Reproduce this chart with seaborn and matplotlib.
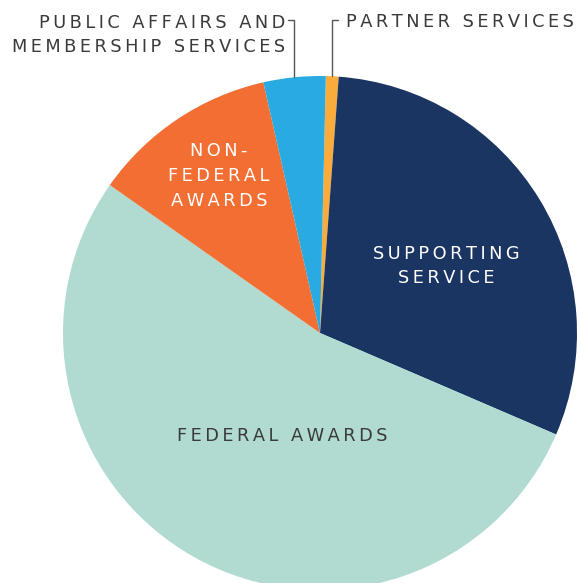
import numpy as np
import matplotlib
matplotlib.use("Agg")
import matplotlib.pyplot as plt
import seaborn as sns

# budget shares (%), clockwise from the top
categories = ["PARTNER SERVICES", "SUPPORTING SERVICE", "FEDERAL AWARDS",
              "NON-FEDERAL AWARDS", "PUBLIC AFFAIRS AND MEMBERSHIP SERVICES"]
shares = [0.8, 30.3, 53.3, 11.7, 3.9]
colors = ["#F9AB3C", "#1B3563", "#B1DBD1", "#F26E33", "#29AAE1"]

sns.set_theme(style="white")
plt.rcParams["font.family"] = ["DejaVu Sans"]

W, H = 577, 583
cx, cy, R = 320, 333, 257  # pie centre / radius in pixels


def px(x, y):
    # pixel position -> data units (pie radius = 1)
    return (x - cx) / R, (cy - y) / R


def spaced(s):
    # imitate the wide letter spacing of the original
    return "\n".join("\u2009".join(line) for line in s.split("\n"))


fig = plt.figure(figsize=(W / 100, H / 100), dpi=100)
ax = fig.add_axes([0, 0, 1, 1])

start = 90 - 1.3
wedges, _ = ax.pie(shares, colors=colors, startangle=start, counterclock=False,
                   radius=1, wedgeprops=dict(linewidth=0))

ax.set_xlim(-cx / R, (W - cx) / R)
ax.set_ylim((cy - H) / R, cy / R)
ax.set_aspect("auto")
ax.axis("off")

txt = "#3a3a3a"
fs = 12.8
ls = 1.45
ax.text(*px(446, 266), spaced("SUPPORTING\nSERVICE"), color="white", fontsize=fs,
        ha="center", va="center", linespacing=ls)
ax.text(*px(282, 436), spaced("FEDERAL AWARDS"), color=txt, fontsize=fs,
        ha="center", va="center")
ax.text(*px(219, 176), spaced("NON-\nFEDERAL\nAWARDS"), color="white", fontsize=fs,
        ha="center", va="center", linespacing=1.5)
ax.text(*px(285, 35), spaced("PUBLIC AFFAIRS AND\nMEMBERSHIP SERVICES"), color=txt,
        fontsize=fs, ha="right", va="center", linespacing=ls)
ax.text(*px(346, 22), spaced("PARTNER SERVICES"), color=txt, fontsize=fs,
        ha="left", va="center")

# leader lines from the small wedges up to their labels
label_y = px(0, 20)[1]
for w, side in [(wedges[0], 1), (wedges[4], -1)]:
    mid = np.deg2rad((w.theta1 + w.theta2) / 2)
    x0, y0 = np.cos(mid), np.sin(mid)
    ax.plot([x0, x0, x0 + side * 6 / R], [y0, label_y, label_y],
            color="#555555", lw=1, solid_joinstyle="miter")

fig.savefig("out.png", dpi=100)
